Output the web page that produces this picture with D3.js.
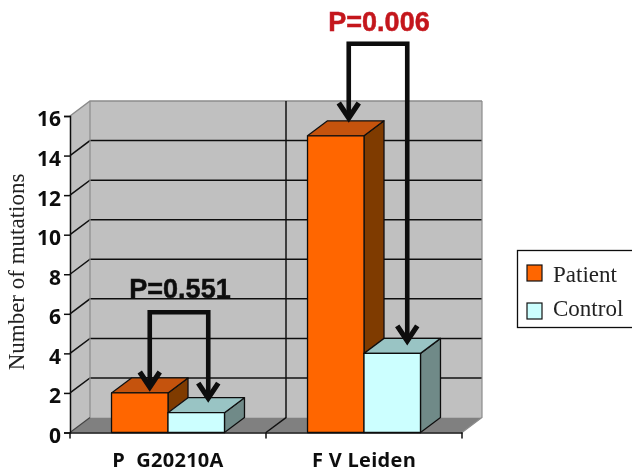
<!DOCTYPE html>
<html><head><meta charset="utf-8">
<script src="https://cdn.jsdelivr.net/npm/d3@7/dist/d3.min.js"></script>
<style>html,body{margin:0;padding:0;background:#fff}svg{display:block}</style></head>
<body><svg id="c" width="632" height="475"></svg>
<script>
const categories = ["P  G20210A", "F V Leiden"];
const seriesNames = ["Patient", "Control"];
const patientValues = [2, 15];
const controlValues = [1, 4];
const yTicks = [0, 2, 4, 6, 8, 10, 12, 14, 16];
const pLabels = ["P=0.551", "P=0.006"];
const bracketTops = [6.08, 19.65];
const patientArrowTips = [2.3, 15.9];
const controlArrowTips = [1.74, 4.63];

const colors = {
  Patient: {front: "#ff6600", top: "#c55209", side: "#7f3a06"},
  Control: {front: "#ccffff", top: "#99c4c4", side: "#6f8a88"}
};

const svg = d3.select("#c");
const defs = svg.append("defs");
defs.append("filter").attr("id", "soft").append("feGaussianBlur").attr("stdDeviation", 0.4);
const root = svg.append("g").attr("filter", "url(#soft)");

const plotLeft = 70, plotRight = 462, plotBottom = 432.5, plotTop = 116, dx = 20, dy = 15;
const y = d3.scaleLinear().domain([0, 16]).range([plotBottom, plotTop]);
const x0 = d3.scaleBand().domain(categories).range([plotLeft, plotRight]);
const x1 = d3.scaleBand().domain(seriesNames).range([0, x0.bandwidth()]).paddingInner(0).paddingOuter(0.735);

// walls and floor
const wall = "#c0c0c0";
root.append("polygon").attr("fill", wall)
  .attr("points", [[plotLeft, y(16)], [plotLeft + dx, y(16) - dy], [plotLeft + dx, y(0) - dy], [plotLeft, y(0)]].join(" "));
root.append("rect").attr("fill", wall).attr("x", plotLeft + dx).attr("y", y(16) - dy)
  .attr("width", plotRight - plotLeft).attr("height", y(0) - y(16));
root.append("polygon").attr("fill", "#808080")
  .attr("points", [[plotLeft, y(0)], [plotLeft + dx, y(0) - dy], [plotRight + dx, y(0) - dy], [plotRight, y(0)]].join(" "));

// grid
const gridTicks = yTicks.filter(d => d > 0);
root.append("g").selectAll("path").data(gridTicks).join("path")
  .attr("fill", "none")
  .attr("stroke", d => d === 16 ? "#8c8c8c" : "#111")
  .attr("stroke-width", 1.5)
  .attr("d", d => `M${plotLeft},${y(d)}L${plotLeft + dx},${y(d) - dy}H${plotRight + dx}`);
root.append("path").attr("fill", "none").attr("stroke", "#8c8c8c").attr("stroke-width", 1.2)
  .attr("d", `M${plotLeft + dx},${y(16) - dy}V${y(0) - dy}M${plotRight + dx},${y(16) - dy}V${y(0) - dy}L${plotRight},${y(0)}`);
root.append("path").attr("fill", "none").attr("stroke", "#111").attr("stroke-width", 1.5)
  .attr("d", `M${x0(categories[1]) + dx},${y(16) - dy}V${y(0) - dy}L${x0(categories[1])},${y(0)}`);
root.append("path").attr("fill", "none").attr("stroke", "#444").attr("stroke-width", 1.2)
  .attr("d", `M${plotLeft},${y(0)}L${plotLeft + dx},${y(0) - dy}`);

// axes
const yAxis = d3.axisLeft(y).tickValues(yTicks).tickSize(6).tickPadding(3);
const yg = root.append("g").attr("transform", `translate(${plotLeft},0)`).call(yAxis);
yg.select(".domain").attr("stroke", "#111").attr("stroke-width", 1.5);
yg.selectAll(".tick line").attr("stroke", "#111").attr("stroke-width", 1.5);
yg.selectAll("text").attr("font-family", "'Open Sans'").attr("font-weight", 700)
  .attr("font-size", 21).attr("fill", "#111").attr("dy", "0.47em");

const xAxis = d3.axisBottom(x0).tickSize(0).tickPadding(20);
const xg = root.append("g").attr("transform", `translate(0,${plotBottom})`).call(xAxis);
xg.select(".domain").attr("stroke", "#111").attr("stroke-width", 1.5);
xg.selectAll("text").attr("font-family", "'Open Sans'").attr("font-weight", 700)
  .attr("font-size", 20).attr("letter-spacing", 0.3).attr("fill", "#111")
  .style("white-space", "pre");
root.append("g").selectAll("line").data([...categories.map(c => x0(c)), plotRight]).join("line")
  .attr("x1", d => d).attr("x2", d => d).attr("y1", plotBottom).attr("y2", plotBottom + 6)
  .attr("stroke", "#111").attr("stroke-width", 1.5);

// bars
const barRows = categories.flatMap((c, i) => [
  {c, s: "Patient", v: patientValues[i]},
  {c, s: "Control", v: controlValues[i]}
]);
const bars = root.append("g").selectAll("g").data(barRows).join("g")
  .attr("stroke", "#111").attr("stroke-width", 1.3).attr("stroke-linejoin", "round");
const bx = d => x0(d.c) + x1(d.s);
const bw = x1.bandwidth();
bars.append("polygon").attr("fill", d => colors[d.s].side)
  .attr("points", d => [[bx(d) + bw, y(d.v)], [bx(d) + bw + dx, y(d.v) - dy], [bx(d) + bw + dx, y(0) - dy], [bx(d) + bw, y(0)]].join(" "));
bars.append("polygon").attr("fill", d => colors[d.s].top)
  .attr("points", d => [[bx(d), y(d.v)], [bx(d) + dx, y(d.v) - dy], [bx(d) + bw + dx, y(d.v) - dy], [bx(d) + bw, y(d.v)]].join(" "));
bars.append("rect").attr("fill", d => colors[d.s].front)
  .attr("x", bx).attr("y", d => y(d.v)).attr("width", bw).attr("height", d => y(0) - y(d.v));

// p-value labels and arrows
categories.forEach((c, i) => {
  const shift = i === 0 ? 0 : 3;
  const xa = x0(c) + x1("Patient") + bw / 2 + dx / 2 + shift;
  const xb = x0(c) + x1("Control") + bw / 2 + dx * 0.6 + shift;
  const yt = y(bracketTops[i]), ya = y(patientArrowTips[i]), yb = y(controlArrowTips[i]);
  const g = root.append("g").attr("fill", "none").attr("stroke", "#0a0a0a").attr("stroke-width", 4.6).attr("stroke-linejoin", "miter");
  g.append("path").attr("d", `M${xa},${ya - 3}V${yt}H${xb}V${yb - 3}`);
  [[xa, ya], [xb, yb]].forEach(([ax, ay]) => {
    g.append("path").attr("stroke-width", 5.2).attr("d", `M${ax - 10},${ay - 15}L${ax},${ay}L${ax + 10},${ay - 15}`);
  });
  root.append("text").text(pLabels[i])
    .attr("x", (xa + xb) / 2 + 1).attr("y", yt - (i === 0 ? 14 : 13))
    .attr("text-anchor", "middle").attr("font-family", "'Liberation Sans'").attr("font-weight", 700)
    .attr("font-size", 27).attr("fill", i === 0 ? "#111" : "#c4161c")
    .attr("stroke", i === 0 ? "#111" : "#c4161c").attr("stroke-width", 0.5);
});

// y title
root.append("text").text("Number of mutations")
  .attr("transform", "translate(24,272) rotate(-90)").attr("text-anchor", "middle")
  .attr("font-family", "'Liberation Serif'").attr("font-size", 23).attr("fill", "#222");

// legend
const lg = root.append("g");
lg.append("rect").attr("x", 517.5).attr("y", 250.5).attr("width", 120).attr("height", 77)
  .attr("fill", "#fff").attr("stroke", "#111").attr("stroke-width", 1.3);
lg.selectAll(".sw").data(seriesNames).join("rect").attr("class", "sw")
  .attr("x", 527).attr("y", (d, i) => 265 + i * 38).attr("width", 15).attr("height", 16)
  .attr("fill", d => colors[d].front).attr("stroke", "#111").attr("stroke-width", 1.2);
lg.selectAll(".lb").data(seriesNames).join("text").attr("class", "lb").text(d => d)
  .attr("x", 553).attr("y", (d, i) => 282 + i * 34)
  .attr("font-family", "'Liberation Serif'").attr("font-size", 23).attr("fill", "#222");
</script></body></html>
